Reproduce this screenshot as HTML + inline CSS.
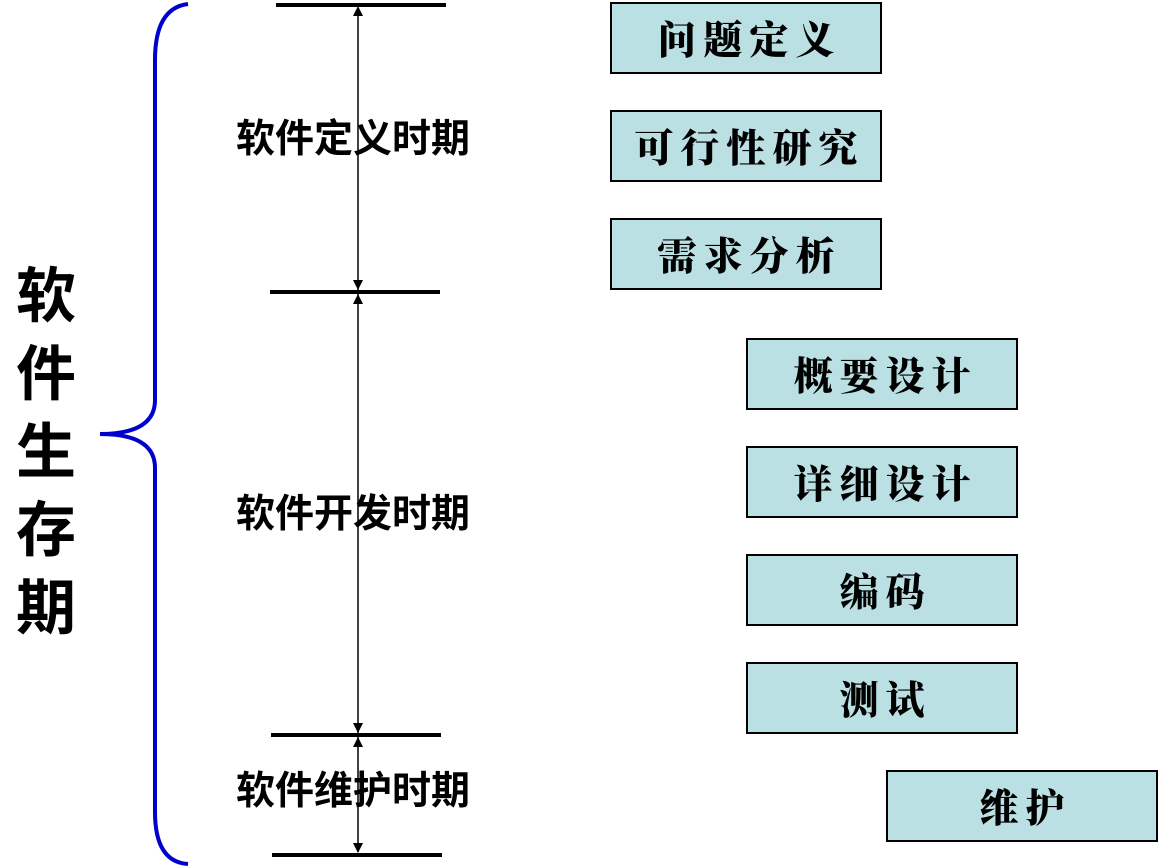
<!DOCTYPE html>
<html><head><meta charset="utf-8"><style>
body{margin:0;width:1160px;height:868px;background:#fff;position:relative;overflow:hidden;font-family:"Liberation Sans","Noto Sans CJK SC",sans-serif}
.b{position:absolute;width:268px;height:68px;border:2px solid #000;background:#bbe0e3;display:flex;align-items:center;justify-content:center;font-family:"Liberation Serif","Noto Serif CJK SC",serif;font-weight:900;font-size:39px;letter-spacing:7px;text-indent:7px}
.l{position:absolute;left:213px;width:280px;text-align:center;font-size:39px;font-weight:bold;line-height:44px;white-space:nowrap}
.v{position:absolute;left:6px;width:80px;text-align:center;font-size:60px;font-weight:bold;line-height:78px;top:258px}
</style></head><body>
<svg width="1160" height="868" style="position:absolute;left:0;top:0">
<path d="M188 4 Q155 8 155 60 L155 400 Q155 434 100 434 Q155 434 155 468 L155 812 Q155 862 188 864" fill="none" stroke="#0000cc" stroke-width="4"/>
<g stroke="#000" stroke-width="4">
<line x1="276" y1="5" x2="446" y2="5"/><line x1="270" y1="292" x2="440" y2="292"/>
<line x1="271" y1="735" x2="441" y2="735"/><line x1="272" y1="855" x2="442" y2="855"/></g>
<line x1="358" y1="8" x2="358" y2="852" stroke="#000" stroke-width="1.5"/>
<g fill="#000">
<polygon points="358,6 353,16 363,16"/><polygon points="358,290 353,280 363,280"/>
<polygon points="358,294 353,304 363,304"/><polygon points="358,733 353,723 363,723"/>
<polygon points="358,737 353,747 363,747"/><polygon points="358,853 353,843 363,843"/></g>
</svg>
<div class="v">软<br>件<br>生<br>存<br>期</div>
<div class="l" style="top:118px">软件定义时期</div>
<div class="l" style="top:493px">软件开发时期</div>
<div class="l" style="top:770px">软件维护时期</div>
<div class="b" style="left:610px;top:2px">问题定义</div>
<div class="b" style="left:610px;top:110px">可行性研究</div>
<div class="b" style="left:610px;top:218px">需求分析</div>
<div class="b" style="left:746px;top:338px">概要设计</div>
<div class="b" style="left:746px;top:446px">详细设计</div>
<div class="b" style="left:746px;top:554px">编码</div>
<div class="b" style="left:746px;top:662px">测试</div>
<div class="b" style="left:886px;top:770px">维护</div>
</body></html>
